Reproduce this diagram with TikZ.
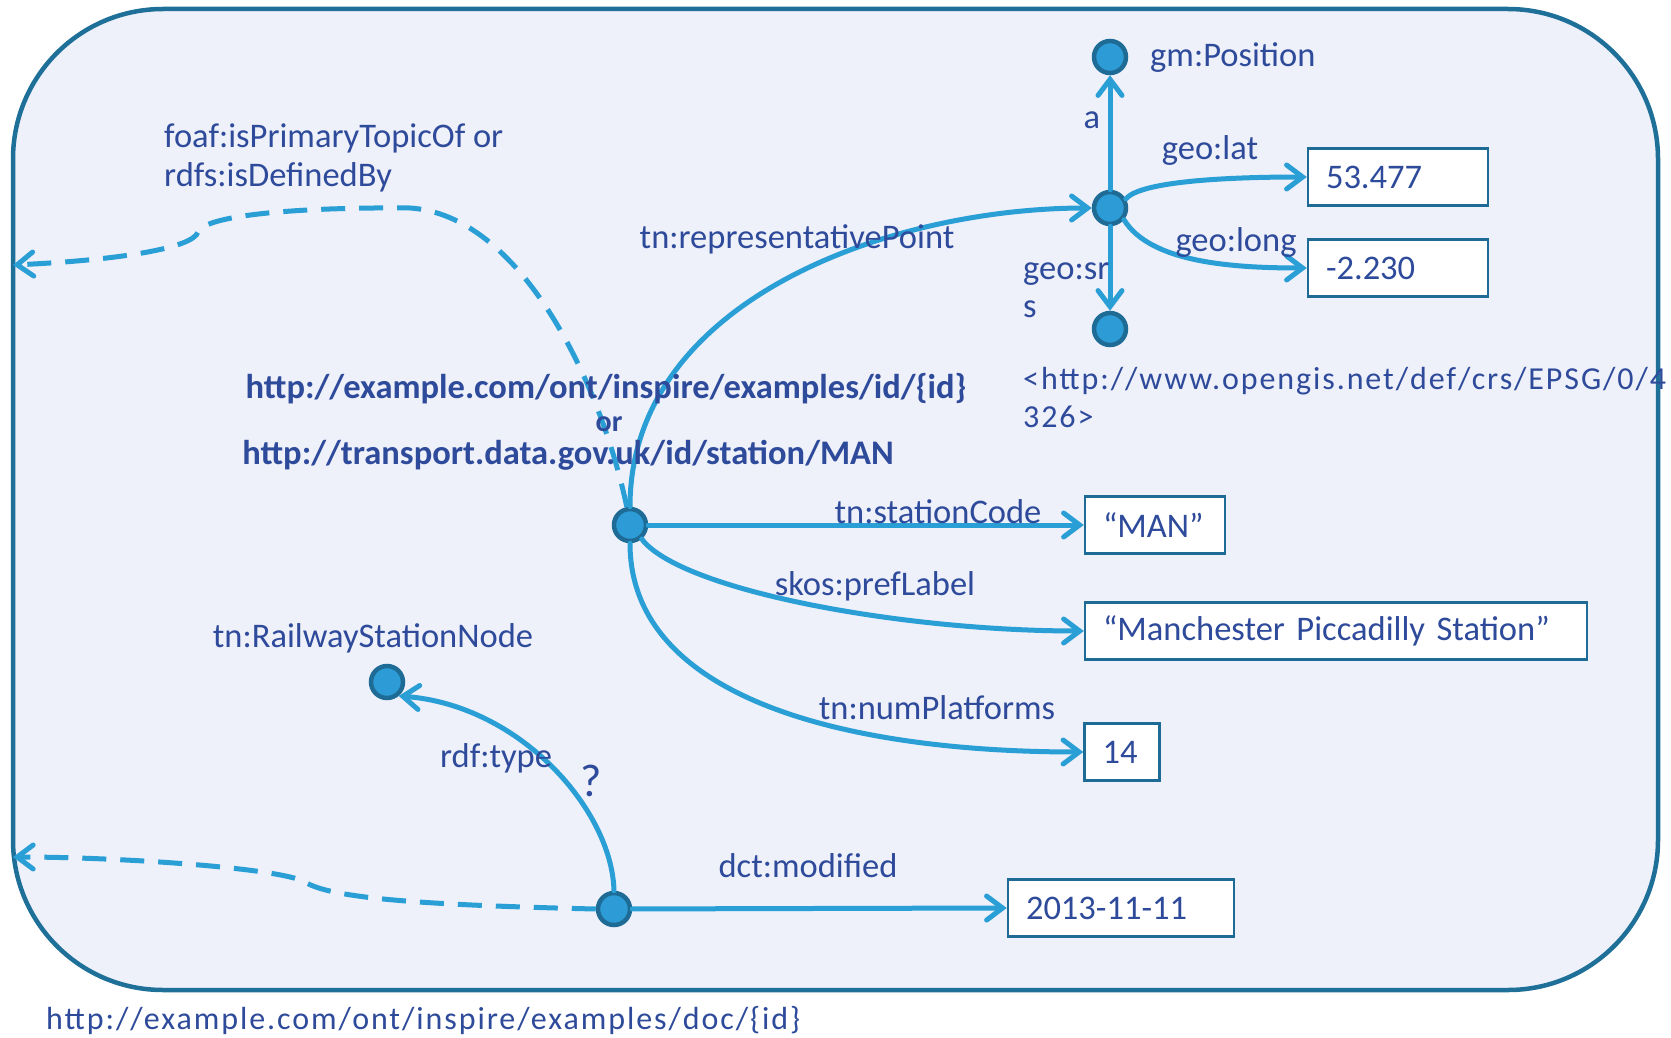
\documentclass[tikz,border=0pt]{standalone}
\usepackage{fontspec}
\setmainfont{Carlito}
\newfontfamily\urifont{Carlito}[LetterSpace=6]
\usetikzlibrary{arrows.meta}

\definecolor{frameblue}{HTML}{1E7099}
\definecolor{framefill}{HTML}{EEF0FA}
\definecolor{edgeblue}{HTML}{2A9FD6}
\definecolor{dotfill}{HTML}{2D9CD6}
\definecolor{dotline}{HTML}{1E6C96}
\definecolor{inkblue}{HTML}{2E4A9A}

\tikzset{
  lbl/.style={text=inkblue, font=\fontsize{34.5}{38}\selectfont, inner sep=0pt},
  urilbl/.style={text=inkblue, font=\fontsize{34.5}{38}\selectfont\bfseries, inner sep=0pt},
  spacedlbl/.style={text=inkblue, font=\fontsize{32}{38}\selectfont\urifont, inner sep=0pt},
  res/.style={circle, fill=dotfill, draw=dotline, line width=4.5pt, minimum size=32pt, inner sep=0pt},
  lit/.style={draw=dotline, fill=white, line width=2.5pt, text=inkblue,
    font=\fontsize{34.5}{38}\selectfont, minimum height=57pt, inner xsep=18pt, inner ysep=0pt, align=left},
  rel/.style={draw=edgeblue, line width=5pt, line cap=round,
    -{Straight Barb[length=16pt,width=24pt,line cap=round]}},
  dashrel/.style={rel, dash pattern=on 24pt off 14pt, line cap=butt},
}

\begin{document}
\begin{tikzpicture}[x=1pt,y=-1pt]
\useasboundingbox (0,0) rectangle (1671,1038);
\fill[white] (0,0) rectangle (1671,1038);

% named graph boundary
\draw[draw=frameblue, fill=framefill, line width=4.5pt, rounded corners=150pt]
  (13,9) rectangle (1658,990);

% resources
\node[res] (gm)  at (1110,57)  {};
\node[res] (rep) at (1110,208) {};
\node[res] (srs) at (1110,329) {};
\node[res] (m)   at (630,525)  {};
\node[res] (rs)  at (387,682)  {};
\node[res] (doc) at (614,909)  {};

% literals
\node[lit, text width=144pt] (lat)  at (1398,177) {53.477};
\node[lit, text width=144pt] (long) at (1398,268) {-2.230};
\node[lit, text width=104pt] (code) at (1155,525) {“MAN”};
\node[lit, text width=466pt] (pref) at (1336,631) {“Manchester Piccadilly Station”};
\node[lit, text width=39pt]  (plat) at (1122,752) {14};
\node[lit, text width=190pt] (date) at (1121,908) {2013-11-11};

% position properties
\draw[rel] (rep) -- (gm);
\draw[rel] (rep) -- (srs);
\draw[rel] (rep.30) .. controls (1140,182) and (1220,177) .. (lat.west);
\draw[rel] (rep.-40) .. controls (1150,262) and (1230,268) .. (long.west);

% station properties
\draw[rel] (m.north) .. controls (630,300) and (890,208) .. (rep.west);
\draw[rel] (m) -- (code.west);
\draw[rel] (m.-50) .. controls (680,590) and (900,631) .. (pref.west);
\draw[rel] (m.south) .. controls (630,700) and (850,752) .. (plat.west);

% document properties
\draw[rel] (doc) -- (date.west);
\draw[rel] (doc.north) .. controls (612,810) and (520,705) .. (rs.-50);

% links out of the graph
\draw[dashrel] (m.100) .. controls (600,380) and (520,215) .. (410,208)
  .. controls (300,207) and (205,215) .. (198,232)
  .. controls (193,248) and (120,260) .. (13,265);
\draw[dashrel] (doc.west) .. controls (420,905) and (330,898) .. (305,882)
  .. controls (280,868) and (120,857) .. (13,857);

% property labels
\node[lbl, anchor=west] (gmlbl) at (1150,58) {gm:Position};
\node[lbl] (albl) at (1092,120) {a};
\node[lbl] (latlbl) at (1210,150) {geo:lat};
\node[lbl] (longlbl) at (1236,242) {geo:long};
\node[lbl, anchor=west, align=left] (srslbl) at (1023,290) {geo:sr\\s};
\node[spacedlbl, anchor=west, align=left] (srsuri) at (1023,398)
  {<http://www.opengis.net/def/crs/EPSG/0/4\\326>};
\node[lbl] (rplbl) at (797,239) {tn:representativePoint};
\node[lbl] (codelbl) at (938,512) {tn:stationCode};
\node[lbl] (preflbl) at (875,586) {skos:prefLabel};
\node[lbl] (platlbl) at (937,708) {tn:numPlatforms};
\node[lbl] (modlbl) at (808,866) {dct:modified};
\node[lbl] (typelbl) at (496,758) {rdf:type};
\node[lbl, font=\fontsize{46}{50}\selectfont] (qlbl) at (591,781) {?};
\node[lbl] (rslbl) at (373,638) {tn:RailwayStationNode};
\node[lbl, anchor=west, align=left, font=\fontsize{34.5}{39}\selectfont] (foaflbl) at (164,158)
  {foaf:isPrimaryTopicOf or\\rdfs:isDefinedBy};

% identifiers
\node[urilbl] (uri1) at (606,389) {http://example.com/ont/inspire/examples/id/\{id\}};
\node[urilbl, font=\fontsize{30}{32}\selectfont\bfseries] (orlbl) at (609,424) {or};
\node[urilbl] (uri2) at (568,455) {http://transport.data.gov.uk/id/station/MAN};
\node[spacedlbl, anchor=west] (docuri) at (46,1021) {http://example.com/ont/inspire/examples/doc/\{id\}};
\end{tikzpicture}
\end{document}
